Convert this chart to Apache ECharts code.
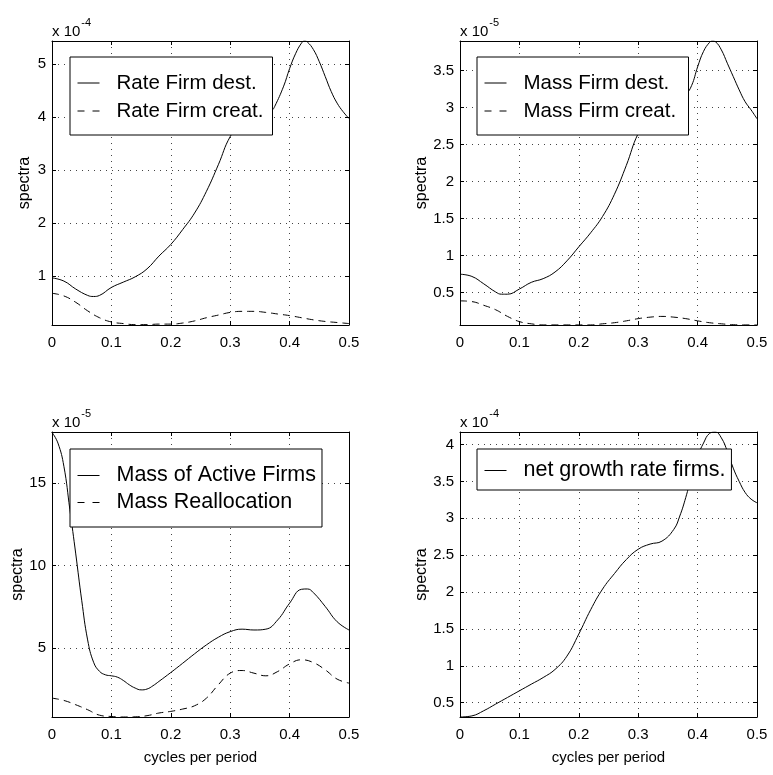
<!DOCTYPE html>
<html>
<head>
<meta charset="utf-8">
<script src="https://cdn.jsdelivr.net/npm/echarts@6/dist/echarts.min.js"></script>
<style>
html, body { margin: 0; padding: 0; background: #ffffff; }
#chart { width: 773px; height: 775px; }
</style>
</head>
<body>
<div id="chart"></div>
<script>
// ---------- data (spectra in units of the shown power of ten) ----------
const xTickValues = [0, 0.1, 0.2, 0.3, 0.4, 0.5];
const xTitle = 'cycles per period';
const yTitle = 'spectra';

// Panel 1 (x 10^-4)
const p1Exponent = '-4';
const p1Names = ['Rate Firm dest.', 'Rate Firm creat.'];
const p1DestFreq = [0, 0.02, 0.04, 0.06, 0.07, 0.08, 0.10, 0.12, 0.14, 0.16, 0.18, 0.20, 0.22, 0.24, 0.26, 0.28, 0.30, 0.32, 0.34, 0.36, 0.37, 0.375, 0.39, 0.40, 0.41, 0.42, 0.425, 0.43, 0.44, 0.45, 0.46, 0.47, 0.48, 0.49, 0.50];
const p1Dest = [0.97, 0.91, 0.76, 0.64, 0.62, 0.64, 0.79, 0.89, 0.99, 1.14, 1.38, 1.60, 1.88, 2.19, 2.60, 3.10, 3.63, 3.90, 4.00, 4.06, 4.12, 4.20, 4.58, 4.91, 5.19, 5.39, 5.43, 5.41, 5.27, 5.04, 4.76, 4.48, 4.26, 4.10, 3.97];
const p1CreatFreq = [0, 0.02, 0.04, 0.06, 0.08, 0.10, 0.12, 0.14, 0.16, 0.18, 0.20, 0.22, 0.24, 0.26, 0.28, 0.30, 0.32, 0.34, 0.36, 0.38, 0.40, 0.42, 0.44, 0.46, 0.48, 0.50];
const p1Creat = [0.68, 0.63, 0.51, 0.35, 0.22, 0.14, 0.11, 0.09, 0.09, 0.10, 0.10, 0.12, 0.16, 0.22, 0.27, 0.32, 0.34, 0.34, 0.32, 0.29, 0.26, 0.22, 0.18, 0.15, 0.13, 0.11];
const p1YRange = [0.083, 5.43];
const p1YTicks = [1, 2, 3, 4, 5];

// Panel 2 (x 10^-5)
const p2Exponent = '-5';
const p2Names = ['Mass Firm dest.', 'Mass Firm creat.'];
const p2DestFreq = [0, 0.02, 0.04, 0.06, 0.07, 0.08, 0.10, 0.12, 0.14, 0.16, 0.18, 0.20, 0.22, 0.24, 0.26, 0.28, 0.30, 0.32, 0.34, 0.36, 0.38, 0.39, 0.40, 0.41, 0.42, 0.425, 0.43, 0.44, 0.45, 0.46, 0.47, 0.48, 0.49, 0.50];
const p2Dest = [0.75, 0.72, 0.62, 0.51, 0.48, 0.48, 0.55, 0.64, 0.69, 0.78, 0.93, 1.12, 1.31, 1.53, 1.83, 2.22, 2.65, 2.88, 3.00, 3.08, 3.18, 3.30, 3.55, 3.76, 3.88, 3.90, 3.89, 3.78, 3.60, 3.42, 3.24, 3.08, 2.97, 2.85];
const p2CreatFreq = [0, 0.02, 0.04, 0.06, 0.08, 0.10, 0.12, 0.14, 0.16, 0.18, 0.20, 0.22, 0.24, 0.26, 0.28, 0.30, 0.32, 0.34, 0.36, 0.38, 0.40, 0.42, 0.44, 0.46, 0.48, 0.50];
const p2Creat = [0.39, 0.38, 0.33, 0.27, 0.18, 0.11, 0.08, 0.065, 0.065, 0.065, 0.065, 0.065, 0.08, 0.095, 0.12, 0.15, 0.17, 0.18, 0.17, 0.15, 0.12, 0.095, 0.08, 0.068, 0.065, 0.065];
const p2YRange = [0.064, 3.9];
const p2YTicks = [0.5, 1, 1.5, 2, 2.5, 3, 3.5];

// Panel 3 (x 10^-5)
const p3Exponent = '-5';
const p3Names = ['Mass of Active Firms', 'Mass Reallocation'];
const p3ActiveFreq = [0, 0.01, 0.02, 0.03, 0.04, 0.05, 0.06, 0.07, 0.08, 0.09, 0.10, 0.11, 0.12, 0.13, 0.14, 0.15, 0.16, 0.17, 0.18, 0.20, 0.22, 0.24, 0.26, 0.28, 0.30, 0.32, 0.34, 0.36, 0.38, 0.40, 0.42, 0.43, 0.44, 0.46, 0.48, 0.50];
const p3Active = [18.05, 17.4, 16.0, 13.4, 10.7, 7.9, 5.5, 4.15, 3.6, 3.39, 3.33, 3.25, 3.05, 2.79, 2.59, 2.48, 2.53, 2.73, 2.99, 3.53, 4.09, 4.66, 5.20, 5.66, 6.00, 6.15, 6.10, 6.15, 6.71, 7.72, 8.56, 8.58, 8.36, 7.52, 6.60, 6.10];
const p3ReallocFreq = [0, 0.02, 0.04, 0.06, 0.08, 0.10, 0.12, 0.14, 0.16, 0.18, 0.20, 0.22, 0.24, 0.26, 0.28, 0.30, 0.32, 0.34, 0.36, 0.38, 0.40, 0.42, 0.44, 0.46, 0.48, 0.50];
const p3Realloc = [1.98, 1.84, 1.58, 1.28, 0.95, 0.87, 0.84, 0.85, 0.92, 1.08, 1.18, 1.32, 1.52, 1.98, 2.79, 3.49, 3.65, 3.49, 3.33, 3.59, 4.05, 4.30, 4.13, 3.69, 3.13, 2.89];
const p3YRange = [0.84, 18.07];
const p3YTicks = [5, 10, 15];

// Panel 4 (x 10^-4)
const p4Exponent = '-4';
const p4Names = ['net growth rate firms.'];
const p4NetFreq = [0, 0.02, 0.04, 0.06, 0.08, 0.10, 0.12, 0.14, 0.16, 0.18, 0.20, 0.22, 0.24, 0.26, 0.28, 0.30, 0.32, 0.34, 0.36, 0.37, 0.38, 0.39, 0.40, 0.41, 0.42, 0.43, 0.44, 0.45, 0.46, 0.47, 0.48, 0.49, 0.50];
const p4Net = [0.305, 0.32, 0.39, 0.48, 0.57, 0.66, 0.75, 0.84, 0.95, 1.13, 1.43, 1.76, 2.04, 2.25, 2.44, 2.58, 2.65, 2.69, 2.85, 3.03, 3.28, 3.58, 3.84, 4.02, 4.15, 4.17, 4.09, 3.91, 3.68, 3.50, 3.35, 3.26, 3.21];
const p4YRange = [0.305, 4.17];
const p4YTicks = [0.5, 1, 1.5, 2, 2.5, 3, 3.5, 4];

// ---------- layout / style ----------
const FONT = "'Liberation Sans', Arial, Helvetica, sans-serif";
const DASH = [7, 5];
const LEGEND_DASH = [7, 8];

const panels = [
  { grid: { left: 52, top: 41, width: 297, height: 284 }, exp: p1Exponent, yRange: p1YRange, yTicks: p1YTicks, nameGap: 19, xTitle: false,
    legend: { left: 70, top: 57, textWidth: 150, padTop: 12, padBottom: 10, lineHeight: 28, fontSize: 20.5 }, names: p1Names,
    lines: [[p1DestFreq, p1Dest, 'solid'], [p1CreatFreq, p1Creat, DASH]] },
  { grid: { left: 460, top: 41, width: 297, height: 284 }, exp: p2Exponent, yRange: p2YRange, yTicks: p2YTicks, nameGap: 29, xTitle: false,
    legend: { left: 477, top: 57, textWidth: 159, padTop: 12, padBottom: 10, lineHeight: 28, fontSize: 20.5 }, names: p2Names,
    lines: [[p2DestFreq, p2Dest, 'solid'], [p2CreatFreq, p2Creat, DASH]] },
  { grid: { left: 52, top: 432, width: 297, height: 285 }, exp: p3Exponent, yRange: p3YRange, yTicks: p3YTicks, nameGap: 25, xTitle: true,
    legend: { left: 70, top: 449, textWidth: 196, padTop: 13, padBottom: 11, lineHeight: 27, fontSize: 21.5 }, names: p3Names,
    lines: [[p3ActiveFreq, p3Active, 'solid'], [p3ReallocFreq, p3Realloc, DASH]] },
  { grid: { left: 460, top: 432, width: 297, height: 285 }, exp: p4Exponent, yRange: p4YRange, yTicks: p4YTicks, nameGap: 28, xTitle: true,
    legend: { left: 477, top: 449, textWidth: 195, padTop: 8, padBottom: 6, lineHeight: 27, fontSize: 21.5 }, names: p4Names,
    lines: [[p4NetFreq, p4Net, 'solid']] }
];

const axisLineStyle = { color: '#000', width: 1 };
const gridLineStyle = { color: '#444', width: 1, type: [1, 5] };

const option = {
  animation: false,
  backgroundColor: '#ffffff',
  textStyle: { fontFamily: FONT, color: '#000' },
  grid: [], xAxis: [], yAxis: [], legend: [], series: []
};

panels.forEach((p, i) => {
  option.grid.push(Object.assign({ containLabel: false }, p.grid));
  // bottom x axis
  option.xAxis.push({
    type: 'value', gridIndex: i, min: 0, max: 0.5, interval: 0.1, position: 'bottom',
    axisLine: { show: true, onZero: false, lineStyle: axisLineStyle },
    axisTick: { show: true, inside: true, length: 4, lineStyle: axisLineStyle },
    axisLabel: { show: true, color: '#000', fontSize: 15, fontFamily: FONT, margin: 10,
      formatter: v => String(Math.round(v * 10) / 10) },
    splitLine: { show: true, lineStyle: gridLineStyle },
    name: p.xTitle ? xTitle : '', nameLocation: 'middle', nameGap: 33,
    nameTextStyle: { color: '#000', fontSize: 15, fontFamily: FONT }
  });
  // top x axis (box edge with inward ticks and the scale factor label)
  option.xAxis.push({
    type: 'value', gridIndex: i, min: 0, max: 0.5, interval: 0.1, position: 'top',
    axisLine: { show: true, onZero: false, lineStyle: axisLineStyle },
    axisTick: { show: true, inside: true, length: 4, lineStyle: axisLineStyle },
    axisLabel: { show: false }, splitLine: { show: false },
    name: '{b|x 10}{sup|' + p.exp + '}', nameLocation: 'start', nameGap: 0,
    nameTextStyle: { align: 'left', verticalAlign: 'bottom', padding: [0, 0, 5, 0],
      rich: {
        b: { fontSize: 15, fontFamily: FONT, color: '#000', lineHeight: 15, padding: [7, 0, 0, 0], verticalAlign: 'middle' },
        sup: { fontSize: 11, fontFamily: FONT, color: '#000', lineHeight: 11, padding: [0, 0, 11, 1], verticalAlign: 'middle' }
      } }
  });
  // left y axis
  option.yAxis.push({
    type: 'value', gridIndex: i, min: p.yRange[0], max: p.yRange[1], position: 'left',
    axisLine: { show: true, onZero: false, lineStyle: axisLineStyle },
    axisTick: { show: true, inside: true, length: 4, lineStyle: axisLineStyle, customValues: p.yTicks },
    axisLabel: { show: true, color: '#000', fontSize: 15, fontFamily: FONT, margin: 6, customValues: p.yTicks },
    splitLine: { show: true, lineStyle: gridLineStyle, customValues: p.yTicks },
    name: yTitle, nameLocation: 'middle', nameGap: p.nameGap,
    nameTextStyle: { color: '#000', fontSize: 16, fontFamily: FONT }
  });
  // right y axis (box edge)
  option.yAxis.push({
    type: 'value', gridIndex: i, min: p.yRange[0], max: p.yRange[1], position: 'right',
    axisLine: { show: true, onZero: false, lineStyle: axisLineStyle },
    axisTick: { show: true, inside: true, length: 4, lineStyle: axisLineStyle, customValues: p.yTicks },
    axisLabel: { show: false }, splitLine: { show: false }
  });
  option.legend.push({
    left: p.legend.left, top: p.legend.top, orient: 'vertical',
    padding: [p.legend.padTop, 6, p.legend.padBottom, 7],
    itemWidth: 22, itemHeight: 14, itemGap: 0,
    backgroundColor: '#ffffff', borderColor: '#000', borderWidth: 1, borderRadius: 0,
    selectedMode: false, z: 10,
    itemStyle: { color: 'rgba(0,0,0,0)', borderColor: 'rgba(0,0,0,0)', borderWidth: 0 },
    data: p.names.map((n, k) => ({
      name: n,
      lineStyle: { color: '#000', width: 1, type: p.lines[k][2] === 'solid' ? 'solid' : LEGEND_DASH }
    })),
    textStyle: { color: '#000', fontSize: p.legend.fontSize, fontFamily: FONT, lineHeight: p.legend.lineHeight,
      width: p.legend.textWidth, overflow: 'none', padding: [0, 0, 0, 12] }
  });
  p.lines.forEach((ln, k) => {
    const fx = ln[0], fy = ln[1];
    option.series.push({
      type: 'line', name: p.names[k], xAxisIndex: 2 * i, yAxisIndex: 2 * i,
      data: fx.map((f, j) => [f, fy[j]]),
      symbol: 'none', showSymbol: false, smooth: 0.45, silent: true, clip: true,
      lineStyle: { color: '#000', width: 1, type: ln[2] },
      itemStyle: { color: '#000' },
      emphasis: { disabled: true }
    });
  });
});

const chart = echarts.init(document.getElementById('chart'), null, { renderer: 'canvas' });
chart.setOption(option);
</script>
</body>
</html>
